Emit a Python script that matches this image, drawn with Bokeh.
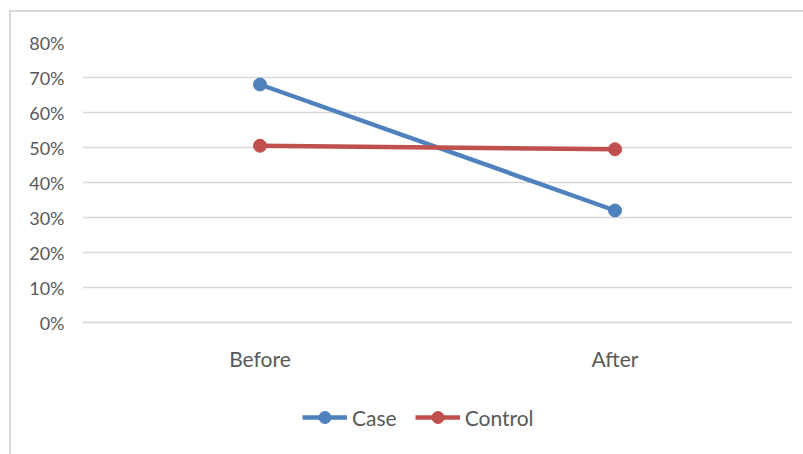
from bokeh.plotting import figure
from bokeh.models import Range1d, FactorRange, NumeralTickFormatter, FixedTicker, Legend, LegendItem
from bokeh.embed import file_html
from bokeh.resources import INLINE

categories = ["Before", "After"]
case = [0.68, 0.32]
control = [0.505, 0.495]
y_ticks = [0.0, 0.1, 0.2, 0.3, 0.4, 0.5, 0.6, 0.7, 0.8]

FONT = "Lato"
TEXT = "#595959"
BLUE = "#4F81BD"
RED = "#C0504D"

# frame covers 42..454 px; 0% sits at 322 px, 80% at 42 px
y_bottom = -132 / 350.0

p = figure(width=803, height=454, output_backend="svg", toolbar_location=None,
           x_range=FactorRange(*categories, range_padding=0),
           y_range=Range1d(y_bottom, 0.8),
           min_border_left=82, min_border_right=11, min_border_top=42, min_border_bottom=0)
p.outline_line_color = None
p.border_fill_color = None
p.styles = {"box-shadow": "inset 9px 10px 0 0 #ffffff, inset 11px 12px 0 0 #d9d9d9"}

p.yaxis.ticker = FixedTicker(ticks=y_ticks)
p.yaxis.formatter = NumeralTickFormatter(format="0%")
p.yaxis.axis_line_color = None
p.yaxis.major_tick_line_color = None
p.yaxis.minor_tick_line_color = None
p.yaxis.major_label_standoff = 12
p.yaxis.major_label_text_font = FONT
p.yaxis.major_label_text_font_size = "18px"
p.yaxis.major_label_text_color = TEXT

p.xaxis.fixed_location = 0
p.xaxis.axis_line_color = "#d9d9d9"
p.xaxis.axis_line_width = 1.3
p.xaxis.major_tick_line_color = None
p.xaxis.minor_tick_line_color = None
p.xaxis.major_label_standoff = 17
p.xaxis.major_label_text_font = FONT
p.xaxis.major_label_text_font_size = "21px"
p.xaxis.major_label_text_color = TEXT

p.xgrid.grid_line_color = None
p.ygrid.grid_line_color = "#d9d9d9"
p.ygrid.grid_line_width = 1.3

l1 = p.line(categories, case, line_color=BLUE, line_width=4.5)
s1 = p.scatter(categories, case, marker="circle", size=13, fill_color=BLUE, line_color=BLUE)
l2 = p.line(categories, control, line_color=RED, line_width=4.5)
s2 = p.scatter(categories, control, marker="circle", size=13, fill_color=RED, line_color=RED)

legend = Legend(items=[LegendItem(label="Case", renderers=[l1, s1]),
                       LegendItem(label="Control", renderers=[l2, s2])],
                orientation="horizontal", location=(220, 22),
                glyph_width=45, glyph_height=30, label_standoff=5, spacing=18,
                padding=0, margin=0, border_line_color=None, background_fill_color=None,
                label_text_font=FONT, label_text_font_size="21px", label_text_color=TEXT)
p.add_layout(legend, "center")

open("out.html", "w").write(file_html(p, INLINE))
